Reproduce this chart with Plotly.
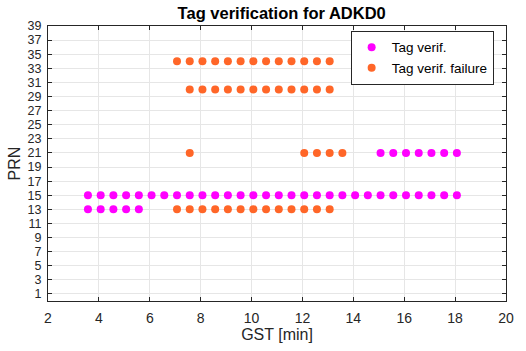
import plotly.graph_objects as go

# Data (GST in minutes, PRN)
ok_x = [3.57 + 0.5 * i for i in range(30)] + [3.57, 4.07, 4.57, 5.07, 5.57] + \
       [15.07, 15.57, 16.07, 16.57, 17.07, 17.57, 18.07]
ok_y = [15] * 30 + [13] * 5 + [21] * 7

fail_x13 = [7.07, 7.57, 8.07, 8.57, 9.07, 9.57, 10.07, 10.57, 11.07, 11.57, 12.07, 12.57, 13.07]
fail_x34 = [7.07, 7.57, 8.07, 8.57, 9.07, 9.57, 10.07, 10.57, 11.07, 11.57, 12.07, 12.57, 13.07]
fail_x30 = [7.57, 8.07, 8.57, 9.07, 9.57, 10.07, 10.57, 11.07, 11.57, 12.07, 12.57, 13.07]
fail_x21 = [7.57, 12.07, 12.57, 13.07, 13.57]
fail_x = fail_x13 + fail_x34 + fail_x30 + fail_x21
fail_y = [13] * len(fail_x13) + [34] * len(fail_x34) + [30] * len(fail_x30) + [21] * len(fail_x21)

x_ticks = [2, 4, 6, 8, 10, 12, 14, 16, 18, 20]
y_ticks = list(range(1, 40, 2))

FONT = "Liberation Sans, Arial, sans-serif"

fig = go.Figure()
fig.add_trace(go.Scatter(x=ok_x, y=ok_y, mode="markers", name="Tag verif.",
                         marker=dict(color="#FF00FF", size=8)))
fig.add_trace(go.Scatter(x=fail_x, y=fail_y, mode="markers", name="Tag verif. failure",
                         marker=dict(color="#FF6628", size=8)))

axis_common = dict(showline=True, linecolor="#262626", linewidth=1, mirror="ticks",
                   ticks="inside", ticklen=4, tickcolor="#262626",
                   showgrid=True, gridcolor="#E6E6E6", gridwidth=1, zeroline=False)

fig.update_layout(
    width=526, height=351,
    margin=dict(l=48, r=13, t=26, b=46),
    paper_bgcolor="white", plot_bgcolor="white",
    title=dict(text="<b>Tag verification for ADKD0</b>", x=0.5355, xanchor="center",
               y=0.963, yanchor="middle",
               font=dict(family=FONT, size=16.5, color="black")),
    xaxis=dict(range=[2, 20], tickvals=x_ticks, ticklabelstandoff=4, **axis_common,
               tickfont=dict(family=FONT, size=14, color="#262626"),
               title=dict(text="GST [min]", font=dict(family=FONT, size=16, color="#262626"),
                          standoff=2)),
    yaxis=dict(range=[0, 39], tickvals=y_ticks, ticklabelstandoff=3, **axis_common,
               tickfont=dict(family=FONT, size=12.5, color="#262626"),
               title=dict(text="PRN", font=dict(family=FONT, size=16, color="#262626"),
                          standoff=2)),
    legend=dict(x=0.973, y=0.982, xanchor="right", yanchor="top",
                bgcolor="white", bordercolor="#262626", borderwidth=1,
                font=dict(family=FONT, size=13.5, color="black"),
                itemwidth=30, tracegroupgap=0),
    showlegend=True,
)

fig.write_html("out.html")
